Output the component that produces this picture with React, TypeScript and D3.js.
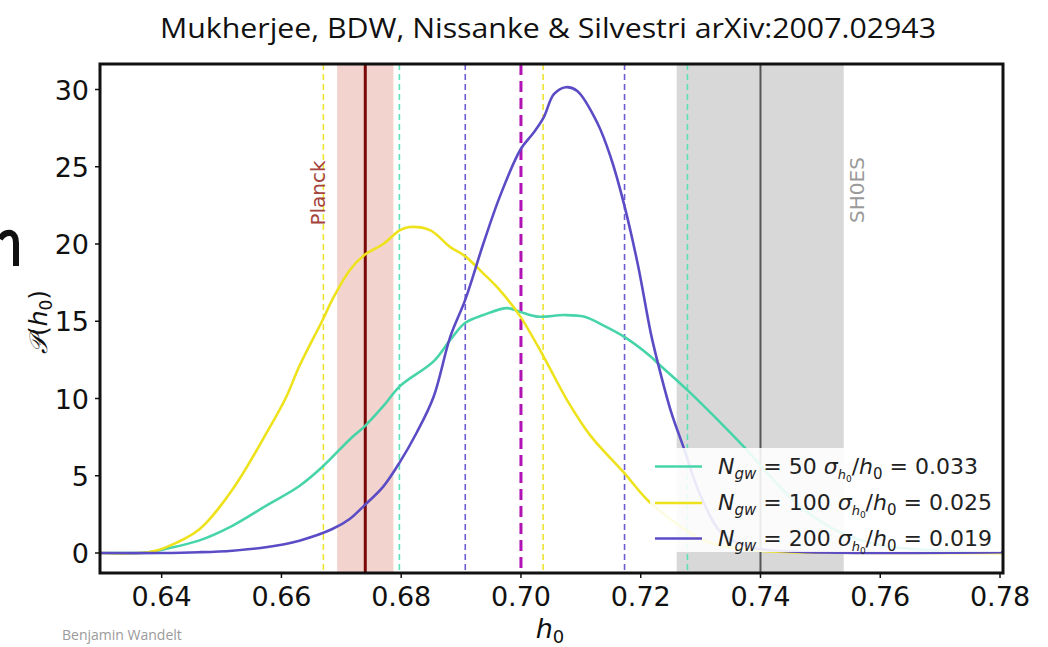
import React from "react";
import * as d3 from "d3";

// ---- data ----
const xTicks = [0.64, 0.66, 0.68, 0.7, 0.72, 0.74, 0.76, 0.78];
const xTickLabels = ["0.64", "0.66", "0.68", "0.70", "0.72", "0.74", "0.76", "0.78"];
const yTicks = [0, 5, 10, 15, 20, 25, 30];

const seriesNames = ["50", "100", "200"];
const seriesSigma = ["0.033", "0.025", "0.019"];

const tealH = [0.6297, 0.6378, 0.6406, 0.6462, 0.6518, 0.6574, 0.663, 0.6669, 0.6714, 0.6739, 0.677, 0.6798, 0.6854, 0.6882, 0.6907, 0.6937, 0.6977, 0.6999, 0.7027, 0.7072, 0.7105, 0.7139, 0.7172, 0.7217, 0.7228, 0.7282, 0.7329, 0.7374, 0.742, 0.747, 0.753, 0.76, 0.77, 0.7805];
const tealP = [0, 0.05, 0.26, 0.8, 1.76, 3.05, 4.34, 5.6, 7.35, 8.2, 9.5, 10.8, 12.4, 13.8, 14.9, 15.4, 15.85, 15.6, 15.3, 15.4, 15.3, 14.7, 14.0, 12.7, 12.3, 10.4, 8.6, 6.8, 4.8, 2.9, 1.4, 0.5, 0.15, 0.05];

const yellowH = [0.6297, 0.6378, 0.6406, 0.6462, 0.6518, 0.6574, 0.6608, 0.663, 0.6669, 0.6685, 0.6714, 0.6739, 0.677, 0.6798, 0.6814, 0.6848, 0.6882, 0.6907, 0.6937, 0.6965, 0.6999, 0.7038, 0.7077, 0.7116, 0.7172, 0.7212, 0.726, 0.73, 0.735, 0.742, 0.75, 0.7805];
const yellowP = [0, 0.05, 0.35, 1.5, 4.1, 7.7, 10.1, 12.1, 15.1, 16.4, 18.3, 19.3, 20.0, 20.9, 21.1, 20.9, 19.8, 19.2, 18.1, 17.0, 15.3, 12.7, 9.9, 7.6, 5.2, 3.4, 1.9, 0.9, 0.35, 0.1, 0.02, 0];

const blueH = [0.6297, 0.64, 0.6462, 0.6518, 0.6574, 0.663, 0.6685, 0.6714, 0.6739, 0.677, 0.6798, 0.6826, 0.6854, 0.6882, 0.6907, 0.6937, 0.6965, 0.6999, 0.7021, 0.7038, 0.7055, 0.7075, 0.7094, 0.7128, 0.715, 0.7172, 0.7195, 0.7217, 0.7228, 0.7251, 0.7271, 0.73, 0.7335, 0.738, 0.745, 0.7805];
const blueP = [0, 0.0, 0.05, 0.15, 0.37, 0.8, 1.55, 2.2, 3.1, 4.3, 5.9, 7.8, 10.1, 14.0, 16.4, 20.0, 23.1, 26.1, 27.2, 28.2, 29.7, 30.15, 29.9, 27.8, 25.6, 22.6, 18.7, 14.2, 12.4, 9.1, 6.9, 3.7, 1.3, 0.4, 0.1, 0.05];

const seriesColors = ["#47d4a9", "#eee21c", "#5b4cc6"];

// vertical reference lines: position, colour key
const refLinePos = [0.667, 0.6797, 0.6907, 0.7037, 0.7173, 0.7278];
const refLineColor = ["#efe430", "#5fe0b8", "#6a5cd0", "#efe430", "#6a5cd0", "#5fe0b8"];
const meanLine = 0.7;
const planckCenter = 0.674;
const planckBand = [0.6693, 0.6787];
const shoesCenter = 0.74;
const shoesBand = [0.726, 0.7539];

export default function App() {
  const left = 100, right = 1003, top = 64, bottom = 573;
  const x = d3.scaleLinear().domain([0.6297, 0.7805]).range([left, right]);
  const y = d3.scaleLinear().domain([0, 30]).range([553, 89.5]);

  const line = d3
    .line<[number, number]>()
    .x((d) => x(d[0]))
    .y((d) => y(Math.max(d[1], 0)))
    .curve(d3.curveCatmullRom.alpha(0.5));

  const series = [
    d3.zip(tealH, tealP) as [number, number][],
    d3.zip(yellowH, yellowP) as [number, number][],
    d3.zip(blueH, blueP) as [number, number][],
  ];

  const legendRows = [466.5, 503, 538.5];

  return (
    <svg
      width={1048}
      height={647}
      style={{ position: "absolute", left: 0, top: 0, background: "#fff" }}
      fontFamily="DejaVu Sans, sans-serif"
    >
      <defs>
        <clipPath id="plot">
          <rect x={left} y={top} width={right - left} height={bottom - top} />
        </clipPath>
      </defs>

      {/* title */}
      <text
        x={548}
        y={38}
        textAnchor="middle"
        fontFamily="Open Sans, sans-serif"
        fontSize={27}
        textLength={776}
        lengthAdjust="spacingAndGlyphs"
        fill="#111"
      >
        Mukherjee, BDW, Nissanke &amp; Silvestri arXiv:2007.02943
      </text>

      {/* fragment of a cut-off slide glyph at the far left */}
      <path d="M0,239 Q4,232 11,233 Q16,235 16,243 L16,266" fill="none" stroke="#111" strokeWidth={6} />

      <g clipPath="url(#plot)">
        {/* bands */}
        <rect
          x={x(planckBand[0])}
          y={top}
          width={x(planckBand[1]) - x(planckBand[0])}
          height={bottom - top}
          fill="#f2d3cd"
        />
        <rect
          x={x(shoesBand[0])}
          y={top}
          width={x(shoesBand[1]) - x(shoesBand[0])}
          height={bottom - top}
          fill="#d8d8d8"
        />
        <line x1={x(planckCenter)} x2={x(planckCenter)} y1={top} y2={bottom} stroke="#7a0808" strokeWidth={3} />
        <line x1={x(shoesCenter)} x2={x(shoesCenter)} y1={top} y2={bottom} stroke="#555" strokeWidth={2} />

        {refLinePos.map((p, i) => (
          <line
            key={i}
            x1={x(p)}
            x2={x(p)}
            y1={top}
            y2={bottom}
            stroke={refLineColor[i]}
            strokeWidth={1.6}
            strokeDasharray="6,4"
          />
        ))}
        <line
          x1={x(meanLine)}
          x2={x(meanLine)}
          y1={top}
          y2={bottom}
          stroke="#b012b4"
          strokeWidth={3}
          strokeDasharray="11,6"
        />

        {/* curves */}
        {series.map((s, i) => (
          <path key={i} d={line(s) || ""} fill="none" stroke={seriesColors[i]} strokeWidth={2.6} />
        ))}

        {/* legend */}
        <rect x={650} y={448} width={351} height={104} fill="#fff" fillOpacity={0.88} />
        {legendRows.map((ry, i) => (
          <g key={i}>
            <line x1={655} x2={702} y1={ry} y2={ry} stroke={seriesColors[i]} strokeWidth={2.6} />
            <text x={718} y={ry + 7} fontSize={22} fill="#222">
              <tspan fontStyle="italic">N</tspan>
              <tspan fontStyle="italic" fontSize={15} dy={5}>gw</tspan>
              <tspan dy={-5}>{" = " + seriesNames[i] + " "}</tspan>
              <tspan fontStyle="italic">σ</tspan>
              <tspan fontStyle="italic" fontSize={13} dy={5}>h</tspan>
              <tspan fontSize={9} dy={3}>0</tspan>
              <tspan dy={-8}>/</tspan>
              <tspan fontStyle="italic">h</tspan>
              <tspan fontSize={15} dy={5}>0</tspan>
              <tspan dy={-5}>{" = " + seriesSigma[i]}</tspan>
            </text>
          </g>
        ))}
      </g>

      {/* rotated labels */}
      <text
        transform={`translate(${325},${193}) rotate(-90)`}
        textAnchor="middle"
        fontSize={20}
        fill="#a5443c"
      >
        Planck
      </text>
      <text
        transform={`translate(${864},${190}) rotate(-90)`}
        textAnchor="middle"
        fontSize={20}
        fill="#9a9a9a"
      >
        SH0ES
      </text>

      {/* frame */}
      <rect x={left} y={top} width={right - left} height={bottom - top} fill="none" stroke="#111" strokeWidth={3} />

      {/* x ticks */}
      {xTicks.map((t, i) => (
        <g key={i}>
          <line x1={x(t)} x2={x(t)} y1={bottom} y2={bottom + 5} stroke="#111" strokeWidth={1.5} />
          <text x={x(t)} y={606} textAnchor="middle" fontSize={27} fill="#111">
            {xTickLabels[i]}
          </text>
        </g>
      ))}
      {/* y ticks */}
      {yTicks.map((t) => (
        <g key={t}>
          <line x1={left - 5} x2={left} y1={y(t)} y2={y(t)} stroke="#111" strokeWidth={1.5} />
          <text x={89} y={y(t) + 10} textAnchor="end" fontSize={27} fill="#111">
            {t}
          </text>
        </g>
      ))}

      {/* axis labels */}
      <text x={550} y={638} textAnchor="middle" fontSize={27} fill="#111">
        <tspan fontStyle="italic">h</tspan>
        <tspan fontSize={18} dy={5}>0</tspan>
      </text>
      <text transform={`translate(${47},${322}) rotate(-90)`} textAnchor="middle" fontSize={25} fill="#111">
        <tspan fontFamily="DejaVu Serif, serif" fontStyle="italic">𝒫</tspan>
        <tspan>(</tspan>
        <tspan fontStyle="italic">h</tspan>
        <tspan fontSize={17} dy={5}>0</tspan>
        <tspan dy={-5}>)</tspan>
      </text>

      {/* credit */}
      <text x={62} y={640} fontFamily="Open Sans, sans-serif" fontSize={14} fill="#9a9a9a">
        Benjamin Wandelt
      </text>
    </svg>
  );
}
